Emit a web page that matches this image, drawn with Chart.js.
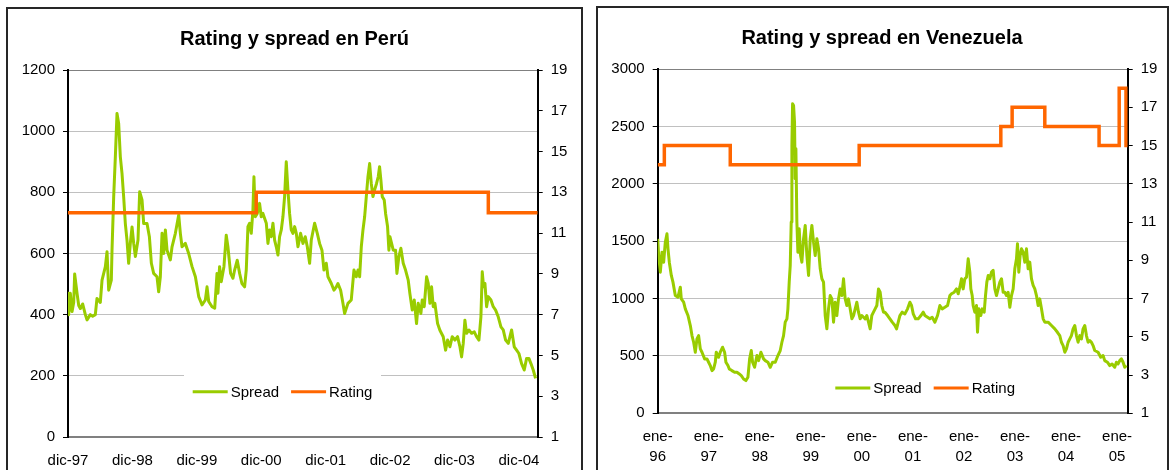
<!DOCTYPE html>
<html>
<head>
<meta charset="utf-8">
<script src="https://cdn.jsdelivr.net/npm/chart.js@4.4.1/dist/chart.umd.min.js"></script>
<style>
  html, body { margin: 0; padding: 0; background: #fff; }
  #page { position: relative; width: 1172px; height: 470px; overflow: hidden; }
  .frame { position: absolute; border: 2px solid #262626; box-sizing: border-box; }
  #frameL { left: 6px; top: 7px; width: 577px; height: 480px; }
  #frameR { left: 596px; top: 6px; width: 573px; height: 480px; }
  canvas { position: absolute; }
  #peru { left: 9px; top: 9px; }
  #ven { left: 598px; top: 9px; }
</style>
</head>
<body>
<div id="page">
  <div class="frame" id="frameL"></div>
  <div class="frame" id="frameR"></div>
  <canvas id="peru" width="571" height="461"></canvas>
  <canvas id="ven" width="568" height="461"></canvas>
</div>
<script>
// ---- Perú: spread (pb) by month since dic-97, and sovereign rating ----
const peruMonths = [0,0.12,0.43,0.75,1.06,1.24,1.68,2.0,2.3,2.73,3.23,3.54,4.16,4.6,5.09,5.4,6.02,6.34,6.96,7.27,7.58,8.07,8.2,8.51,8.82,9.13,9.44,9.75,10.06,10.37,10.68,10.99,11.3,11.61,11.93,12.24,12.55,13.04,13.35,13.79,14.1,14.72,15.16,15.53,15.96,16.58,16.89,17.2,17.52,17.83,18.14,18.45,19.07,19.38,20.0,20.62,20.93,21.24,21.86,22.48,23.11,23.73,24.35,24.97,25.59,25.9,26.21,26.83,27.33,27.76,27.93,28.24,28.55,29.05,29.48,29.79,30.29,30.73,31.04,31.53,31.97,32.4,32.9,33.21,33.52,33.83,34.14,34.45,34.64,34.89,35.26,35.69,36.0,36.31,36.94,37.25,37.56,37.87,38.18,38.49,38.8,39.11,39.42,39.73,40.04,40.35,40.66,40.97,41.28,41.59,41.9,42.22,42.53,42.84,43.33,43.77,44.2,44.58,45.01,45.32,45.94,46.44,46.87,47.31,47.68,48.11,48.43,49.05,49.55,49.98,50.29,50.79,51.22,51.53,52.15,52.77,53.27,53.71,54.02,54.33,54.64,54.95,55.26,55.57,55.88,56.19,56.5,56.81,57.12,57.48,57.79,58.04,58.29,58.54,58.91,59.16,59.53,59.78,59.97,60.28,60.59,61.02,61.27,61.64,62.01,62.45,62.88,63.38,63.69,64.13,64.5,64.93,65.24,65.74,65.99,66.36,66.8,67.11,67.42,67.73,68.04,68.35,68.85,69.28,69.9,70.34,70.71,71.15,71.58,72.08,72.57,73.01,73.32,73.63,73.94,74.25,74.69,75.18,75.68,76.11,76.55,76.92,77.17,77.42,77.67,77.98,78.29,78.79,79.22,79.66,80.15,80.65,81.08,81.52,82.02,82.33,82.64,83.13,83.57,84.0,84.5,84.99,85.43,85.86,86.24,86.67,87.1];
const peruSpread = [470,400,470,410,440,533,470,430,420,435,400,383,400,395,400,453,440,513,557,606,480,513,611,785,916,1058,1025,916,862,785,698,644,568,633,687,633,590,644,802,775,698,698,655,568,535,524,475,524,666,600,677,611,579,622,666,726,666,622,633,600,557,524,459,432,448,491,443,426,421,535,470,557,508,557,660,622,535,519,546,578,535,502,491,546,688,699,666,742,851,720,731,764,720,731,699,633,677,655,699,644,622,595,655,677,720,786,900,808,731,677,666,688,666,622,666,633,655,622,568,644,699,666,633,611,546,568,524,502,480,491,502,480,437,404,437,448,546,524,546,524,622,677,720,786,851,894,829,786,808,829,851,884,840,786,775,731,688,611,655,633,611,611,535,590,617,568,546,513,469,415,448,371,437,404,448,426,524,502,437,491,426,437,371,349,328,284,317,295,328,317,328,295,262,306,382,339,350,339,344,328,317,393,540,491,502,426,459,448,426,415,393,360,350,317,306,328,350,295,284,273,240,219,257,257,240,219,192];
const peruRatingMonths = [0, 35.07, 78.3, 87.5];
const peruRating = [12, 13, 12, 12];
const peruTickMonths = [0, 12, 24, 36, 48, 60, 72, 84];
const peruTickLabels = ['dic-97', 'dic-98', 'dic-99', 'dic-00', 'dic-01', 'dic-02', 'dic-03', 'dic-04'];
const peruSpreadTicks = [0, 200, 400, 600, 800, 1000, 1200];

// ---- Venezuela: spread (pb) by month since ene-96, and sovereign rating ----
const venMonths = [0,0.23,0.62,1.01,1.4,1.79,2.18,2.42,2.73,3.2,3.59,4.14,4.77,5.32,5.55,6.1,6.49,7.12,7.67,8.06,8.45,8.84,9.23,9.62,10.02,10.41,11.03,11.58,11.97,12.36,12.76,13.15,13.54,13.77,14.32,14.71,15.26,15.73,16.04,16.51,16.83,17.45,18.08,18.63,19.18,19.65,20.19,20.74,21.21,21.61,22.0,22.31,22.78,23.33,23.72,24.27,24.89,25.29,25.91,26.46,27.01,27.64,28.26,28.81,29.2,29.59,29.98,30.38,30.61,30.92,31.16,31.39,31.55,31.71,31.94,32.17,32.33,32.49,32.72,32.96,33.27,33.59,33.9,34.29,34.68,35.07,35.47,35.86,36.25,36.64,37.03,37.42,37.82,38.21,38.6,38.99,39.38,39.77,40.16,40.56,40.95,41.34,41.73,42.12,42.51,42.9,43.3,43.69,44.08,44.47,44.86,45.25,45.65,46.04,46.43,46.82,47.21,47.6,47.99,48.39,48.78,49.17,49.56,49.95,50.34,50.73,51.12,51.52,51.91,52.3,52.69,53.08,53.42,54.05,54.6,55.14,55.77,56.16,56.55,56.94,57.49,58.12,58.74,59.29,59.68,60.08,60.62,61.25,61.88,62.43,62.82,63.44,63.99,64.54,65.17,65.79,66.34,66.89,67.52,68.14,68.69,69.08,69.71,70.26,70.65,71.04,71.43,71.82,72.21,72.61,73.0,73.39,73.62,73.94,74.17,74.56,74.95,75.19,75.5,75.97,76.29,76.76,77.07,77.38,77.7,78.09,78.48,78.87,79.26,79.65,80.04,80.44,80.83,81.22,81.61,82.0,82.39,82.79,83.18,83.57,83.96,84.35,84.59,84.9,85.21,85.53,85.92,86.31,86.7,87.09,87.48,87.88,88.27,88.66,89.05,89.44,89.83,90.23,90.62,91.01,91.79,92.58,93.36,93.98,94.53,94.92,95.32,95.71,96.1,96.49,96.88,97.27,97.66,98.06,98.45,98.84,99.23,99.62,100.01,100.41,100.8,101.19,101.58,101.97,102.36,102.75,103.54,104.16,104.71,105.1,105.73,106.28,106.83,107.45,107.84,108.24,108.63,109.02,109.41,109.8,110.2];
const venSpread = [1520,1375,1230,1404,1317,1491,1564,1433,1317,1201,1143,1026,1012,1099,997,968,910,852,764,677,619,532,648,677,561,532,474,474,445,416,372,387,445,532,488,532,576,532,445,416,387,372,358,358,343,328,299,285,314,474,547,445,401,503,459,532,474,459,445,401,445,445,503,547,619,677,794,823,910,1143,1288,1666,2334,2698,2683,2538,2044,2305,1666,1404,1608,1375,1317,1520,1637,1375,1201,1520,1637,1491,1375,1520,1433,1259,1172,1143,852,736,910,1026,997,794,968,852,997,1084,1026,1172,997,939,997,910,823,852,910,968,881,823,852,837,823,852,794,736,852,881,910,939,1084,1055,939,881,881,852,823,794,765,736,794,852,881,866,910,968,939,866,823,823,852,881,852,837,823,837,794,852,939,910,924,939,1026,1041,1055,1084,1041,1099,1172,1084,1172,1186,1346,1230,1084,1026,939,881,939,706,910,852,910,881,1026,1143,1201,1172,1230,1245,1084,1026,1084,1143,1172,1055,1055,1026,1055,924,1026,1084,1259,1346,1477,1230,1375,1433,1404,1317,1433,1259,1317,1172,1114,1084,1026,939,997,910,823,794,794,765,736,706,677,619,590,532,561,619,648,677,736,765,677,619,677,648,736,765,677,619,634,619,590,547,532,488,503,459,445,416,430,401,445,430,459,474,445,401,416];
const venRatingMonths = [0, 1.56, 17.06, 47.37, 80.67, 83.33, 91.01, 103.77, 108.5, 110.1, 110.5];
const venRating = [14, 15, 14, 15, 16, 17, 16, 15, 18, 15, 15];
const venTickMonths = [0, 12, 24, 36, 48, 60, 72, 84, 96, 108];
const venTickLabels = [['ene-','96'],['ene-','97'],['ene-','98'],['ene-','99'],['ene-','00'],['ene-','01'],['ene-','02'],['ene-','03'],['ene-','04'],['ene-','05']];
const venSpreadTicks = [0, 500, 1000, 1500, 2000, 2500, 3000];

const ratingTicks = [1, 3, 5, 7, 9, 11, 13, 15, 17, 19];

// ---- styling ----
const FONT_FAMILY = '"Liberation Sans", Arial, Helvetica, sans-serif';
const SPREAD_COLOR = '#99cc00';
const RATING_COLOR = '#ff6600';
const GRID_COLOR = '#c0c0c0';
const FRAME_LINE = '#808080';

// Chart title centred across the canvas
const chartTitle = {
  id: 'chartTitle',
  afterDraw(chart, args, opts) {
    const ctx = chart.ctx;
    ctx.save();
    ctx.font = 'bold 20px ' + FONT_FAMILY;
    ctx.fillStyle = '#000';
    ctx.textAlign = 'center';
    ctx.textBaseline = 'alphabetic';
    ctx.fillText(opts.text, chart.width / 2 + (opts.dx || 0), opts.y);
    ctx.restore();
  }
};

// Legend sitting inside the plot area on a white panel
const boxLegend = {
  id: 'boxLegend',
  beforeDatasetsDraw(chart, args, opts) {
    const ctx = chart.ctx;
    const b = opts.panel;
    ctx.save();
    ctx.fillStyle = '#fff';
    ctx.fillRect(b.x, b.y, b.w, b.h);
    ctx.restore();
  },
  afterDraw(chart, args, opts) {
    const ctx = chart.ctx;
    ctx.save();
    ctx.font = '15px ' + FONT_FAMILY;
    ctx.textBaseline = 'middle';
    ctx.textAlign = 'left';
    let x = opts.x;
    chart.data.datasets.forEach(ds => {
      ctx.strokeStyle = ds.borderColor;
      ctx.lineWidth = 3;
      ctx.beginPath();
      ctx.moveTo(x, opts.y);
      ctx.lineTo(x + opts.sample, opts.y);
      ctx.stroke();
      ctx.fillStyle = '#000';
      ctx.fillText(ds.label, x + opts.sample + 3, opts.y + 1);
      x += opts.sample + 3 + ctx.measureText(ds.label).width + opts.gap;
    });
    ctx.restore();
  }
};

function pairs(xs, ys) {
  return xs.map((x, i) => ({ x: x, y: ys[i] }));
}

function fixedTicks(values) {
  return scale => { scale.ticks = values.map(v => ({ value: v })); };
}

function buildChart(id, o) {
  const tickFont = { family: FONT_FAMILY, size: 15 };
  return new Chart(document.getElementById(id), {
    type: 'line',
    data: {
      datasets: [
        {
          label: 'Spread',
          data: pairs(o.spreadMonths, o.spread),
          borderColor: SPREAD_COLOR,
          borderWidth: 3,
          pointRadius: 0,
          tension: 0,
          borderJoinStyle: 'round',
          yAxisID: 'y',
          order: 2
        },
        {
          label: 'Rating',
          data: pairs(o.ratingMonths, o.rating),
          borderColor: RATING_COLOR,
          borderWidth: 3.5,
          pointRadius: 0,
          stepped: true,
          yAxisID: 'y1',
          order: 1
        }
      ]
    },
    options: {
      responsive: false,
      animation: false,
      devicePixelRatio: 1,
      events: [],
      layout: { padding: { top: o.area.top, left: 0, right: 0, bottom: 0 } },
      plugins: {
        legend: { display: false },
        tooltip: { enabled: false },
        title: { display: false },
        chartTitle: { text: o.title, y: o.titleY },
        boxLegend: o.legend
      },
      scales: {
        x: {
          type: 'linear',
          min: 0,
          max: o.xMax,
          grid: { display: false, drawTicks: false },
          border: { color: FRAME_LINE, width: 2 },
          ticks: {
            autoSkip: false,
            maxRotation: 0,
            padding: o.xPad,
            color: '#000',
            font: Object.assign({ lineHeight: 1.3 }, tickFont),
            callback: v => o.tickLabels[o.tickMonths.indexOf(v)]
          },
          afterBuildTicks: fixedTicks(o.tickMonths),
          afterFit: s => { s.height = o.area.xHeight; }
        },
        y: {
          position: 'left',
          min: 0,
          max: o.spreadTicks[o.spreadTicks.length - 1],
          grid: {
            color: c => (c.tick && c.tick.value === o.spreadTicks[o.spreadTicks.length - 1]) ? FRAME_LINE : GRID_COLOR,
            tickColor: '#000',
            tickLength: 5,
            lineWidth: 1
          },
          border: { color: '#000', width: 2 },
          ticks: { padding: 8, color: '#000', font: tickFont, callback: v => String(v) },
          afterBuildTicks: fixedTicks(o.spreadTicks),
          afterFit: s => { s.width = o.area.left; }
        },
        y1: {
          position: 'right',
          min: 1,
          max: 19,
          grid: { drawOnChartArea: false, tickColor: '#000', tickLength: 5 },
          border: { color: '#000', width: 2 },
          ticks: { padding: 8, color: '#000', font: tickFont, callback: v => String(v) },
          afterBuildTicks: fixedTicks(ratingTicks),
          afterFit: s => { s.width = o.area.right; }
        }
      }
    },
    plugins: [chartTitle, boxLegend]
  });
}

buildChart('peru', {
  title: 'Rating y spread en Perú',
  titleY: 36,
  spreadMonths: peruMonths,
  spread: peruSpread,
  ratingMonths: peruRatingMonths,
  rating: peruRating,
  tickMonths: peruTickMonths,
  tickLabels: peruTickLabels,
  spreadTicks: peruSpreadTicks,
  xMax: 87.5,
  xPad: 14,
  area: { top: 61, left: 59, right: 42.3, xHeight: 33 },
  legend: { panel: { x: 175, y: 363, w: 197, h: 38 }, x: 183.7, y: 382.7, sample: 35, gap: 12 }
});

buildChart('ven', {
  title: 'Rating y spread en Venezuela',
  titleY: 35,
  spreadMonths: venMonths,
  spread: venSpread,
  ratingMonths: venRatingMonths,
  rating: venRating,
  tickMonths: venTickMonths,
  tickLabels: venTickLabels,
  spreadTicks: venSpreadTicks,
  xMax: 110.5,
  xPad: 14,
  area: { top: 60, left: 59.7, right: 38.3, xHeight: 56.7 },
  legend: { panel: { x: 229, y: 362, w: 196, h: 38 }, x: 237.3, y: 379, sample: 35, gap: 12 }
});
</script>
</body>
</html>
